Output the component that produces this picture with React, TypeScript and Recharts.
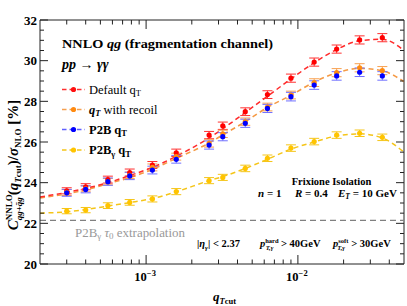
import React from 'react';
import { ComposedChart, Line, Scatter, ErrorBar, XAxis, YAxis, ReferenceLine } from 'recharts';

// ---- data ----
const qtCut = [0.0003, 0.0004, 0.00056, 0.00078, 0.0011, 0.00158, 0.0026, 0.0032, 0.0045, 0.0063, 0.009, 0.0128, 0.018, 0.0255, 0.036];
const defaultQt = [23.6, 23.8, 24.15, 24.5, 24.87, 25.47, 26.34, 26.8, 27.49, 28.33, 29.14, 29.93, 30.57, 31.02, 31.13];
const recoilQt = [23.52, 23.7, 24.05, 24.36, 24.75, 25.28, 25.93, 26.4, 27.0, 27.72, 28.31, 28.92, 29.41, 29.65, 29.51];
const p2bQt = [23.5, 23.67, 24.05, 24.33, 24.62, 25.15, 25.85, 26.26, 26.92, 27.65, 28.23, 28.8, 29.25, 29.43, 29.25];
const p2bGammaQt = [22.6, 22.65, 22.87, 23.03, 23.2, 23.56, 24.1, 24.26, 24.7, 25.2, 25.7, 26.02, 26.34, 26.43, 26.23];
const defaultErr = [0.15, 0.15, 0.17, 0.17, 0.17, 0.18, 0.18, 0.18, 0.19, 0.19, 0.2, 0.2, 0.2, 0.2, 0.2];
const recoilErr = [0.15, 0.15, 0.16, 0.16, 0.17, 0.17, 0.18, 0.18, 0.18, 0.19, 0.19, 0.19, 0.2, 0.2, 0.2];
const p2bErr = [0.17, 0.17, 0.18, 0.18, 0.19, 0.19, 0.2, 0.2, 0.2, 0.2, 0.21, 0.21, 0.21, 0.21, 0.21];
const p2bGammaErr = [0.13, 0.13, 0.14, 0.14, 0.15, 0.15, 0.15, 0.15, 0.16, 0.16, 0.16, 0.16, 0.16, 0.16, 0.16];

// dashed fit curves (edges + at each qTcut)
const fitX = [0.0002, ...qtCut, 0.05];
const defaultFit = [23.3, 23.52, 23.72, 24.0, 24.35, 24.75, 25.3, 26.2, 26.65, 27.45, 28.25, 29.1, 29.9, 30.55, 30.98, 31.05, 30.5];
const recoilFit = [23.25, 23.45, 23.65, 23.95, 24.25, 24.65, 25.2, 25.95, 26.35, 27.0, 27.7, 28.3, 28.95, 29.4, 29.62, 29.5, 28.97];
const p2bGammaFit = [22.5, 22.57, 22.68, 22.85, 23.02, 23.22, 23.55, 24.1, 24.3, 24.7, 25.15, 25.65, 26.0, 26.3, 26.4, 26.2, 25.5];

const tau0Extrapolation = 22.15;
const xDomain = [0.0002, 0.05];
const yDomain = [20, 32];
const xTicks = [0.0003, 0.0004, 0.0005, 0.0006, 0.0007, 0.0008, 0.0009, 0.001, 0.002, 0.003, 0.004, 0.005, 0.006, 0.007, 0.008, 0.009, 0.01, 0.02, 0.03, 0.04];
const yTicks = Array.from({ length: 25 }, (_, i) => 20 + i * 0.5);

// ---- layout ----
const W = 407;
const H = 306;
const TOP = 20;
const RIGHT = 404;
const FONT = "'Liberation Serif', 'DejaVu Serif', serif";

const fitRows = fitX.map((x, i) => ({ x, red: defaultFit[i], orange: recoilFit[i], yellow: p2bGammaFit[i] }));
const mk = (vals: number[], errs: number[]) => qtCut.map((x, i) => ({ x, y: vals[i], err: errs[i] }));
const redPts = mk(defaultQt, defaultErr);
const orangePts = mk(recoilQt, recoilErr);
const bluePts = mk(p2bQt, p2bErr);
const yellowPts = mk(p2bGammaQt, p2bGammaErr);

const dot = (color: string) => (props: any) => (
  <circle cx={props.cx} cy={props.cy} r={2.6} fill={color} />
);

const XTick = (props: any) => {
  const { x, y, payload } = props;
  const v = payload.value;
  const lg = Math.log10(v);
  const major = Math.abs(lg - Math.round(lg)) < 1e-6;
  const len = major ? 9 : 4.5;
  return (
    <g>
      <line x1={x} x2={x} y1={y} y2={y - len} stroke="#222" strokeWidth={1} />
      <line x1={x} x2={x} y1={TOP} y2={TOP + len} stroke="#222" strokeWidth={1} />
      {major && (
        <text x={x - 1} y={y + 17} textAnchor="middle" fontFamily={FONT} fontWeight="bold" fontSize={12.5} fill="#000">
          10<tspan dy={-5} fontSize={8.5}>{'\u2212' + Math.abs(Math.round(lg))}</tspan>
        </text>
      )}
    </g>
  );
};

const YTick = (props: any) => {
  const { x, y, payload } = props;
  const v = payload.value;
  const major = Math.abs(v - 2 * Math.round(v / 2)) < 1e-6;
  const len = major ? 8 : 4;
  return (
    <g>
      <line x1={x} x2={x + len} y1={y} y2={y} stroke="#222" strokeWidth={1} />
      <line x1={RIGHT} x2={RIGHT - len} y1={y} y2={y} stroke="#222" strokeWidth={1} />
      {major && (
        <text x={x - 3} y={y + 4.5} textAnchor="end" fontFamily={FONT} fontWeight="bold" fontSize={13} fill="#000">
          {v}
        </text>
      )}
    </g>
  );
};

const legendRows = [
  { y: 89.5, color: '#ff1010', line: '#ff3030' },
  { y: 109.5, color: '#ff8a10', line: '#f5a050' },
  { y: 129.5, color: '#0000ff', line: '#6060ff' },
  { y: 150, color: '#ffc400', line: '#f5c518' },
];

const Overlay = () => (
  <svg width={W} height={H} style={{ position: 'absolute', left: 0, top: 0, pointerEvents: 'none' }} fontFamily={FONT}>
    <text x={62} y={47.5} fontWeight="bold" fontSize={13.5} fill="#000" textLength={211} lengthAdjust="spacingAndGlyphs">
      NNLO <tspan fontStyle="italic">qg</tspan> (fragmentation channel)
    </text>
    <text x={62} y={68.5} fontWeight="bold" fontSize={14} fill="#000">
      <tspan fontStyle="italic">pp</tspan> {'\u2192'} <tspan fontStyle="italic">{'\u03b3\u03b3'}</tspan>
    </text>
    {legendRows.map((r, i) => (
      <g key={i}>
        <line x1={62} x2={85} y1={r.y} y2={r.y} stroke={r.line} strokeWidth={1.5} strokeDasharray="4.5 3" />
        <circle cx={73.5} cy={r.y} r={2.6} fill={r.color} />
      </g>
    ))}
    <text x={89} y={legendRows[0].y + 4} fontSize={12.5} fill="#000">
      Default q<tspan dy={2.5} fontSize={8.5}>T</tspan>
    </text>
    <text x={89} y={legendRows[1].y + 4} fontSize={12.5} fill="#000">
      <tspan fontStyle="italic" fontWeight="bold">q</tspan><tspan dy={2.5} fontSize={8.5} fontStyle="italic" fontWeight="bold">T</tspan><tspan dy={-2.5}> with recoil</tspan>
    </text>
    <text x={89} y={legendRows[2].y + 4} fontSize={12.5} fontWeight="bold" fill="#000">
      P2B q<tspan dy={2.5} fontSize={8.5}>T</tspan>
    </text>
    <text x={89} y={legendRows[3].y + 4} fontSize={12.5} fontWeight="bold" fill="#000">
      P2B<tspan dy={2.5} fontSize={8.5}>{'\u03b3'}</tspan><tspan dy={-2.5}> q</tspan><tspan dy={2.5} fontSize={8.5}>T</tspan>
    </text>

    <text x={331.5} y={185} textAnchor="middle" fontWeight="bold" fontSize={10.5} fill="#000">
      Frixione Isolation
    </text>
    <g fontWeight="bold" fontSize={11} fill="#000">
      <text x={258} y={196.5}>
        <tspan fontStyle="italic">n</tspan> = 1
      </text>
      <text x={295} y={196.5}>
        <tspan fontStyle="italic">R</tspan> = 0.4
      </text>
      <text x={338} y={196.5}>
        <tspan fontStyle="italic">E</tspan><tspan dy={2.5} fontSize={7.5} fontStyle="italic">T</tspan><tspan dy={-2.5}> = 10 GeV</tspan>
      </text>
    </g>

    <text x={75} y={236.5} fontSize={11.5} fill="#999" textLength={110} lengthAdjust="spacingAndGlyphs">
      P2B<tspan dy={2.5} fontSize={8}>{'\u03b3'}</tspan><tspan dy={-2.5}> </tspan><tspan fontStyle="italic">{'\u03c4'}</tspan><tspan dy={2.5} fontSize={8}>0</tspan><tspan dy={-2.5}> extrapolation</tspan>
    </text>

    <g fontWeight="bold" fontSize={10.5} fill="#000">
      <text x={197} y={247}>
        |<tspan fontStyle="italic">{'\u03b7'}</tspan><tspan dy={2.5} fontSize={7} fontStyle="italic">{'\u03b3'}</tspan><tspan dy={-2.5}>| &lt; 2.37</tspan>
      </text>
      <text x={260} y={247}>
        <tspan fontStyle="italic">p</tspan><tspan dy={-4.5} fontSize={6.5}>hard</tspan><tspan dx={-13} dy={7} fontSize={6.5} fontStyle="italic">T,{'\u03b3'}</tspan><tspan dx={5} dy={-2.5}> &gt; 40GeV</tspan>
      </text>
      <text x={333} y={247}>
        <tspan fontStyle="italic">p</tspan><tspan dy={-4.5} fontSize={6.5}>soft</tspan><tspan dx={-11} dy={7} fontSize={6.5} fontStyle="italic">T,{'\u03b3'}</tspan><tspan dx={3.5} dy={-2.5}> &gt; 30GeV</tspan>
      </text>
    </g>

    <text transform="translate(18,165) rotate(-90)" textAnchor="middle" fontWeight="bold" fontSize={15} fill="#000">
      <tspan fontStyle="italic">C</tspan><tspan dy={-6} fontSize={9}>NNLO</tspan><tspan dx={-26} dy={9.5} fontSize={9} fontStyle="italic">{'qg+q\u0304g'}</tspan><tspan dx={2} dy={-3.5}>(</tspan><tspan fontStyle="italic">q</tspan><tspan dy={3} fontSize={9} fontStyle="italic">T</tspan><tspan fontSize={9}>cut</tspan><tspan dy={-3}>)/</tspan><tspan fontStyle="italic">{'\u03c3'}</tspan><tspan dy={3} fontSize={9}>NLO</tspan><tspan dy={-3}> [%]</tspan>
    </text>

    <text x={213} y={301} fontWeight="bold" fontSize={13} fill="#000">
      <tspan fontStyle="italic">q</tspan><tspan dy={3} fontSize={8.5} fontStyle="italic">T</tspan><tspan fontSize={8.5}>cut</tspan>
    </text>
  </svg>
);

export default function App() {
  return (
    <div style={{ position: 'absolute', left: 0, top: 0, width: W, height: H, background: '#fff' }}>
      <ComposedChart width={W} height={H} data={fitRows} margin={{ top: TOP, right: W - RIGHT, bottom: 0, left: 0 }}>
        <XAxis
          dataKey="x"
          type="number"
          scale="log"
          domain={xDomain}
          allowDataOverflow
          ticks={xTicks}
          interval={0}
          tickSize={0}
          tickMargin={0}
          tick={<XTick />}
          height={42}
          axisLine={{ stroke: '#222' }}
          tickLine={false}
        />
        <YAxis
          type="number"
          domain={yDomain}
          allowDataOverflow
          ticks={yTicks}
          interval={0}
          tickSize={0}
          tickMargin={0}
          tick={<YTick />}
          width={40}
          axisLine={{ stroke: '#222' }}
          tickLine={false}
        />
        <ReferenceLine y={32} stroke="#222" strokeWidth={1} />
        <ReferenceLine x={0.05} stroke="#222" strokeWidth={1} />
        <ReferenceLine y={tau0Extrapolation} stroke="#808080" strokeWidth={1.2} strokeDasharray="6 4" />
        <Line dataKey="yellow" type="monotone" stroke="#f5c518" strokeWidth={1.5} strokeDasharray="5 3.5" dot={false} isAnimationActive={false} />
        <Line dataKey="orange" type="monotone" stroke="#f59a45" strokeWidth={1.6} strokeDasharray="5 3.5" dot={false} isAnimationActive={false} />
        <Line dataKey="red" type="monotone" stroke="#ff2a2a" strokeWidth={1.5} strokeDasharray="5 3.5" dot={false} isAnimationActive={false} />
        <Scatter data={redPts} dataKey="y" shape={dot('#ff0000')} isAnimationActive={false}>
          <ErrorBar dataKey="err" direction="y" width={5} stroke="#ff3030" strokeWidth={1} />
        </Scatter>
        <Scatter data={orangePts} dataKey="y" shape={dot('#ff8a10')} isAnimationActive={false}>
          <ErrorBar dataKey="err" direction="y" width={5} stroke="#f8a050" strokeWidth={1} />
        </Scatter>
        <Scatter data={bluePts} dataKey="y" shape={dot('#0000ff')} isAnimationActive={false}>
          <ErrorBar dataKey="err" direction="y" width={5} stroke="#7070ff" strokeWidth={1} />
        </Scatter>
        <Scatter data={yellowPts} dataKey="y" shape={dot('#ffc400')} isAnimationActive={false}>
          <ErrorBar dataKey="err" direction="y" width={5} stroke="#f5c518" strokeWidth={1} />
        </Scatter>
      </ComposedChart>
      <Overlay />
    </div>
  );
}
